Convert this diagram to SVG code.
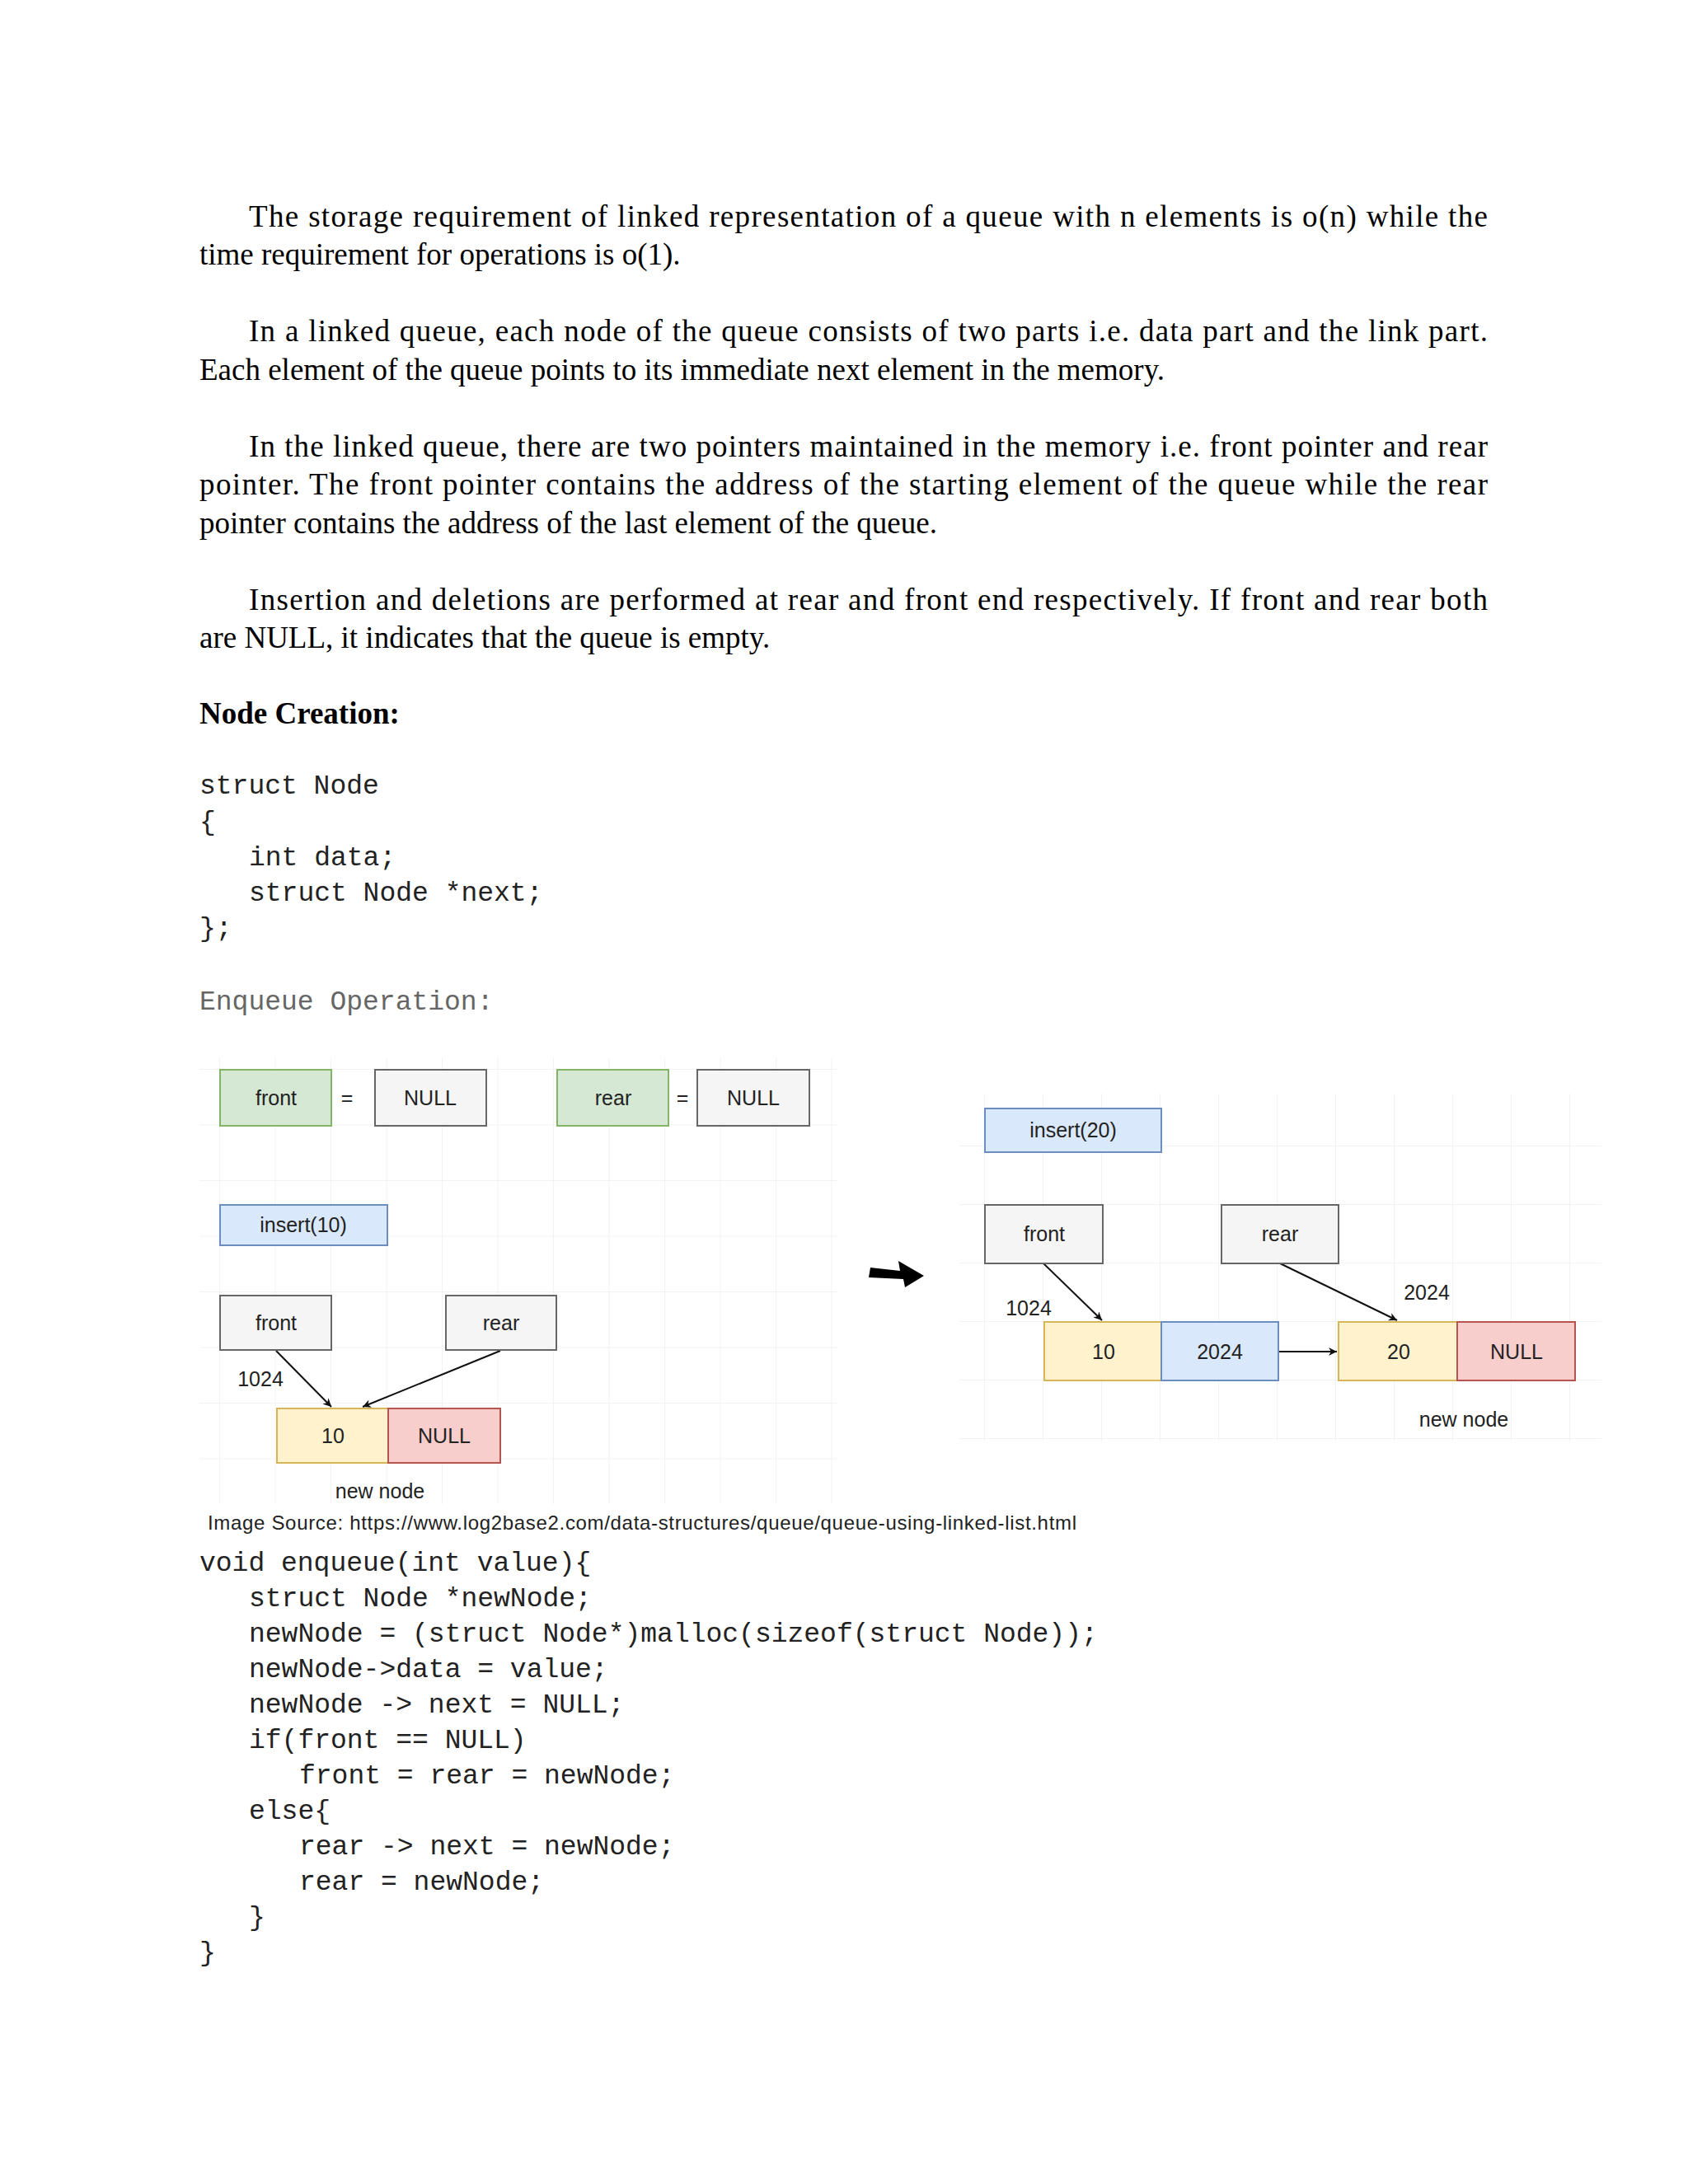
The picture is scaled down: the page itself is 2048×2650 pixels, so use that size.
<svg xmlns="http://www.w3.org/2000/svg" width="2048" height="2650" viewBox="0 0 2048 2650">
<style>
.b{font-family:"Liberation Serif",serif;font-size:37px;fill:#000}
.m{font-family:"Liberation Mono",monospace;font-size:33px;fill:#222}
.s{font-family:"Liberation Sans",Arial,sans-serif;font-size:25px;fill:#222}
.bx{stroke:#666;stroke-width:2;fill:#f5f5f5}
.g{fill:#d5e8d4;stroke:#82b366;stroke-width:2}
.bl{fill:#dae8fc;stroke:#6c8ebf;stroke-width:2}
.y{fill:#fff2cc;stroke:#d6b656;stroke-width:2}
.r{fill:#f8cecc;stroke:#b85450;stroke-width:2}
.gl{stroke:#eee;stroke-width:1.5}
.c{stroke:#111;stroke-width:2;fill:none;marker-end:url(#ah)}
</style>
<defs>
<marker id="ah" markerWidth="12" markerHeight="12" refX="10" refY="5" orient="auto" markerUnits="userSpaceOnUse"><path d="M0,0 L10,5 L0,10 L3,5 Z" fill="#111"/></marker>
<pattern id="grid" width="67.5" height="67.5" patternUnits="userSpaceOnUse" x="267" y="1298"><path d="M67.5,0 V67.5 H0" fill="none" stroke="#eee" stroke-width="1.5"/></pattern>
<pattern id="grid2" width="71" height="71" patternUnits="userSpaceOnUse" x="1195" y="1320"><path d="M71,0 V71 H0" fill="none" stroke="#eee" stroke-width="1.5"/></pattern>
</defs>
<rect width="2048" height="2650" fill="#fff"/>
<g id="text">
<text class="b" x="302" y="275" textLength="1503">The storage requirement of linked representation of a queue with n elements is o(n) while the</text>
<text class="b" x="242" y="321">time requirement for operations is o(1).</text>
<text class="b" x="302" y="414" textLength="1503">In a linked queue, each node of the queue consists of two parts i.e. data part and the link part.</text>
<text class="b" x="242" y="461">Each element of the queue points to its immediate next element in the memory.</text>
<text class="b" x="302" y="554" textLength="1503">In the linked queue, there are two pointers maintained in the memory i.e. front pointer and rear</text>
<text class="b" x="242" y="600" textLength="1563">pointer. The front pointer contains the address of the starting element of the queue while the rear</text>
<text class="b" x="242" y="647">pointer contains the address of the last element of the queue.</text>
<text class="b" x="302" y="740" textLength="1503">Insertion and deletions are performed at rear and front end respectively. If front and rear both</text>
<text class="b" x="242" y="786">are NULL, it indicates that the queue is empty.</text>
<text class="b" x="242" y="878" font-weight="bold">Node Creation:</text>
<text class="m" x="242" y="963">struct Node</text>
<text class="m" x="242" y="1007">{</text>
<text class="m" x="302" y="1050">int data;</text>
<text class="m" x="302" y="1093">struct Node *next;</text>
<text class="m" x="242" y="1136">};</text>
<text class="m" x="242" y="1225" fill="#666" style="fill:#666">Enqueue Operation:</text>
<text class="s" x="252" y="1856" textLength="1054" style="font-size:24px">Image Source: https://www.log2base2.com/data-structures/queue/queue-using-linked-list.html</text>
<text class="m" x="242" y="1906">void enqueue(int value){</text>
<text class="m" x="302" y="1949">struct Node *newNode;</text>
<text class="m" x="302" y="1992">newNode = (struct Node*)malloc(sizeof(struct Node));</text>
<text class="m" x="302" y="2035">newNode-&gt;data = value;</text>
<text class="m" x="302" y="2078">newNode -&gt; next = NULL;</text>
<text class="m" x="302" y="2121">if(front == NULL)</text>
<text class="m" x="363" y="2164">front = rear = newNode;</text>
<text class="m" x="302" y="2207">else{</text>
<text class="m" x="363" y="2250">rear -&gt; next = newNode;</text>
<text class="m" x="363" y="2293">rear = newNode;</text>
<text class="m" x="302" y="2336">}</text>
<text class="m" x="242" y="2379">}</text>
</g>
<rect x="242" y="1284" width="774" height="541" fill="url(#grid)"/>
<rect x="1164" y="1327" width="779" height="422" fill="url(#grid2)"/>
<g id="connectors">
<line class="c" x1="335" y1="1639" x2="402" y2="1707"/>
<line class="c" x1="607" y1="1639" x2="440" y2="1707"/>
<line class="c" x1="1266" y1="1533" x2="1337" y2="1602"/>
<line class="c" x1="1553" y1="1533" x2="1695" y2="1602"/>
<line class="c" x1="1551" y1="1640" x2="1622" y2="1640"/>
</g>
<g id="left">
<g id="l-front"><rect class="g" x="267" y="1298" width="135" height="68"/><text class="s" x="335" y="1341" text-anchor="middle">front</text></g>
<text class="s" x="421" y="1341" text-anchor="middle">=</text>
<g id="l-null1"><rect class="bx" x="455" y="1298" width="135" height="68"/><text class="s" x="522" y="1341" text-anchor="middle">NULL</text></g>
<g id="l-rear"><rect class="g" x="676" y="1298" width="135" height="68"/><text class="s" x="744" y="1341" text-anchor="middle">rear</text></g>
<text class="s" x="828" y="1341" text-anchor="middle">=</text>
<g id="l-null2"><rect class="bx" x="846" y="1298" width="136" height="68"/><text class="s" x="914" y="1341" text-anchor="middle">NULL</text></g>
<g id="l-insert"><rect class="bl" x="267" y="1462" width="203" height="49"/><text class="s" x="368" y="1495" text-anchor="middle">insert(10)</text></g>
<g id="l-front2"><rect class="bx" x="267" y="1572" width="135" height="66"/><text class="s" x="335" y="1614" text-anchor="middle">front</text></g>
<g id="l-rear2"><rect class="bx" x="541" y="1572" width="134" height="66"/><text class="s" x="608" y="1614" text-anchor="middle">rear</text></g>
<text class="s" x="316" y="1682" text-anchor="middle">1024</text>
<g id="l-10"><rect class="y" x="336" y="1709" width="135" height="66"/><text class="s" x="404" y="1751" text-anchor="middle">10</text></g>
<g id="l-nullr"><rect class="r" x="471" y="1709" width="136" height="66"/><text class="s" x="539" y="1751" text-anchor="middle">NULL</text></g>
<text class="s" x="461" y="1818" text-anchor="middle">new node</text>
</g>
<path id="bigarrow" d="M1056,1538 L1092,1542 L1090,1530 L1121,1548 L1098,1562 L1096,1552 L1054,1550 Z" fill="#000"/>
<g id="right">
<g id="r-insert"><rect class="bl" x="1195" y="1345" width="214" height="53"/><text class="s" x="1302" y="1380" text-anchor="middle">insert(20)</text></g>
<g id="r-front"><rect class="bx" x="1195" y="1462" width="143" height="71"/><text class="s" x="1267" y="1506" text-anchor="middle">front</text></g>
<g id="r-rear"><rect class="bx" x="1482" y="1462" width="142" height="71"/><text class="s" x="1553" y="1506" text-anchor="middle">rear</text></g>
<text class="s" x="1248" y="1596" text-anchor="middle">1024</text>
<text class="s" x="1731" y="1577" text-anchor="middle">2024</text>
<g id="r-10"><rect class="y" x="1267" y="1604" width="142" height="71"/><text class="s" x="1339" y="1649" text-anchor="middle">10</text></g>
<g id="r-2024"><rect class="bl" x="1409" y="1604" width="142" height="71"/><text class="s" x="1480" y="1649" text-anchor="middle">2024</text></g>
<g id="r-20"><rect class="y" x="1624" y="1604" width="144" height="71"/><text class="s" x="1697" y="1649" text-anchor="middle">20</text></g>
<g id="r-null"><rect class="r" x="1768" y="1604" width="143" height="71"/><text class="s" x="1840" y="1649" text-anchor="middle">NULL</text></g>
<text class="s" x="1776" y="1731" text-anchor="middle">new node</text>
</g>
</svg>
